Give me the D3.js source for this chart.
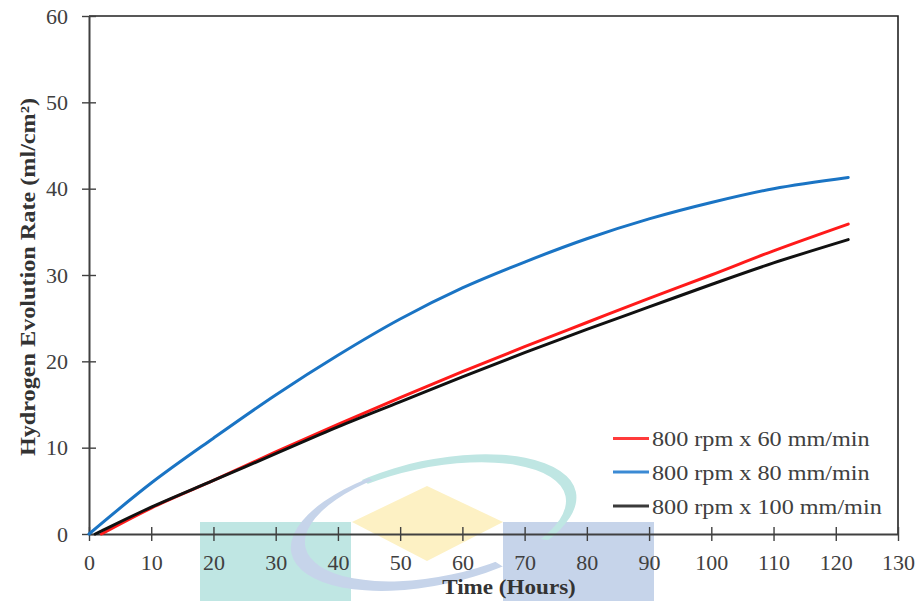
<!DOCTYPE html>
<html>
<head>
<meta charset="utf-8">
<script src="https://cdn.jsdelivr.net/npm/d3@7"></script>
<style>
  html, body { margin: 0; padding: 0; background: #fff; }
  svg { display: block; }
  svg text { font-family: "Liberation Serif", "Times New Roman", Times, Tinos, "DejaVu Serif", serif; }
</style>
</head>
<body>
<svg id="chart" width="920" height="601"></svg>
<script>
// Sampling times (hours)
const hours = [0, 1, 2, 10, 20, 30, 40, 50, 60, 70, 80, 90, 100, 110, 122];

// Hydrogen evolution (ml/cm²) for each welding condition
const rate60  = [null, null, 0, 3.0, 6.2, 9.5, 12.7, 15.8, 18.8, 21.7, 24.5, 27.3, 30.0, 32.8, 35.9];
const rate80  = [0, null, null, 5.9, 11.1, 16.1, 20.7, 24.9, 28.5, 31.5, 34.2, 36.5, 38.4, 40.0, 41.3];
const rate100 = [null, 0, 0.35, 3.1, 6.2, 9.3, 12.4, 15.3, 18.2, 21.0, 23.7, 26.3, 28.9, 31.4, 34.1];

const seriesNames  = ["800 rpm x 60 mm/min", "800 rpm x 80 mm/min", "800 rpm x 100 mm/min"];
const seriesColors = ["#ff1a1a", "#1a74c4", "#111111"];
const legendColors = ["#ff3b3b", "#3b8ad4", "#3a3a3a"];

const xTicks = [0, 10, 20, 30, 40, 50, 60, 70, 80, 90, 100, 110, 120, 130];
const yTicks = [0, 10, 20, 30, 40, 50, 60];

const svg = d3.select("#chart");
const m = { left: 89, top: 16, right: 898, bottom: 534 };
const FONT = "'Liberation Serif', 'Times New Roman', Times, Tinos, 'DejaVu Serif', serif";
const WIDEN = 1.1; // text is set slightly wide

const x = d3.scaleLinear().domain([0, 130]).range([m.left, m.right]);
const y = d3.scaleLinear().domain([0, 60]).range([m.bottom, m.top]);

// Decorative emblem under the lower axis
const emblem = svg.append("g");
emblem.append("rect").attr("x", 200).attr("y", 522).attr("width", 151).attr("height", 79).attr("fill", "#bfe6e3");
emblem.append("rect").attr("x", 503).attr("y", 522).attr("width", 151).attr("height", 79).attr("fill", "#c6d4ea");
emblem.append("path")
  .attr("d", "M427,486 L503,522 L427,561 L352,522 Z")
  .attr("fill", "#fdf1c4");

function ellipsePath(cx, cy, rx, ry) {
  return `M${cx - rx},${cy} a${rx},${ry} 0 1,0 ${2 * rx},0 a${rx},${ry} 0 1,0 ${-2 * rx},0 Z`;
}
function wedgePath(a0, a1) {
  const r = 400, pts = [[0, 0]];
  const n = 24;
  for (let i = 0; i <= n; i++) {
    const a = (a0 + (a1 - a0) * i / n) * Math.PI / 180;
    pts.push([r * Math.cos(a), r * Math.sin(a)]);
  }
  return "M" + pts.map(p => p.join(",")).join("L") + "Z";
}
const defs = svg.append("defs");
defs.append("clipPath").attr("id", "wedgeTeal").append("path").attr("d", wedgePath(-138, 21));
defs.append("clipPath").attr("id", "wedgeBlue").append("path").attr("d", wedgePath(45, 226));

const ring = emblem.append("g").attr("transform", "translate(434,522) rotate(-12)");
ring.append("path")
  .attr("d", ellipsePath(0, 0, 145, 62) + " " + ellipsePath(-6, 2, 140, 57))
  .attr("fill-rule", "evenodd").attr("fill", "#bfe6e3")
  .attr("clip-path", "url(#wedgeTeal)");
ring.append("path")
  .attr("d", ellipsePath(-1, 1, 145, 62) + " " + ellipsePath(6, -2, 137, 57))
  .attr("fill-rule", "evenodd").attr("fill", "#c6d4ea")
  .attr("clip-path", "url(#wedgeBlue)");

// Frame (top and right)
svg.append("path")
  .attr("d", `M${m.left},${m.top} H${m.right} V${m.bottom}`)
  .attr("fill", "none").attr("stroke", "#222").attr("stroke-width", 1.6);

// Axes
const axisColor = "#404040";
const xAxis = svg.append("g").attr("transform", `translate(0,${m.bottom})`)
  .call(d3.axisBottom(x).tickValues(xTicks).tickSize(0).tickPadding(22));
xAxis.selectAll(".tick").append("line").attr("y1", -7).attr("y2", 7).attr("stroke", axisColor).attr("stroke-width", 1.4);
const yAxis = svg.append("g").attr("transform", `translate(${m.left},0)`)
  .call(d3.axisLeft(y).tickValues(yTicks).tickSize(0).tickPadding(21));
yAxis.selectAll(".tick").append("line").attr("x1", -7).attr("x2", 7).attr("stroke", axisColor).attr("stroke-width", 1.4);

[xAxis, yAxis].forEach(a => {
  a.attr("font-family", FONT).attr("font-size", 20);
  a.select(".domain").attr("stroke", axisColor).attr("stroke-width", 2);
  a.selectAll(".tick text").attr("fill", "#404040")
    .attr("transform", `scale(${WIDEN},1)`);
});
yAxis.selectAll(".tick text").attr("x", -21 / WIDEN).attr("dy", "0.35em");

// Series lines
const seriesData = [rate60, rate80, rate100];
const line = d3.line()
  .x(d => x(d[0]))
  .y(d => y(d[1]))
  .curve(d3.curveCatmullRom.alpha(0.5));

seriesData.forEach((vals, i) => {
  svg.append("path")
    .datum(hours.map((h, k) => [h, vals[k]]).filter(d => d[1] !== null))
    .attr("d", line)
    .attr("fill", "none")
    .attr("stroke", seriesColors[i])
    .attr("stroke-width", 3)
    .attr("stroke-linecap", "round");
});

// Legend
const legendRows = [438.5, 472, 506];
seriesNames.forEach((name, i) => {
  const g = svg.append("g").attr("transform", `translate(613,${legendRows[i]})`);
  g.append("line").attr("x1", 0).attr("x2", 36).attr("y1", 0).attr("y2", 0)
    .attr("stroke", legendColors[i]).attr("stroke-width", 3);
  g.append("text")
    .attr("transform", `translate(39,0) scale(${WIDEN},1)`)
    .attr("dy", "0.35em")
    .attr("font-family", FONT).attr("font-size", 22)
    .attr("fill", "#404040").text(name);
});

// Axis titles
svg.append("text")
  .attr("transform", `translate(509,594) scale(${WIDEN},1)`)
  .attr("text-anchor", "middle").attr("fill", "#333")
  .attr("font-family", FONT).attr("font-size", 21).attr("font-weight", "bold")
  .text("Time (Hours)");
svg.append("text")
  .attr("transform", `translate(35,277) rotate(-90) scale(${WIDEN},1)`)
  .attr("text-anchor", "middle").attr("fill", "#333")
  .attr("font-family", FONT).attr("font-size", 22).attr("font-weight", "bold")
  .text("Hydrogen Evolution Rate (ml/cm²)");
</script>
</body>
</html>
